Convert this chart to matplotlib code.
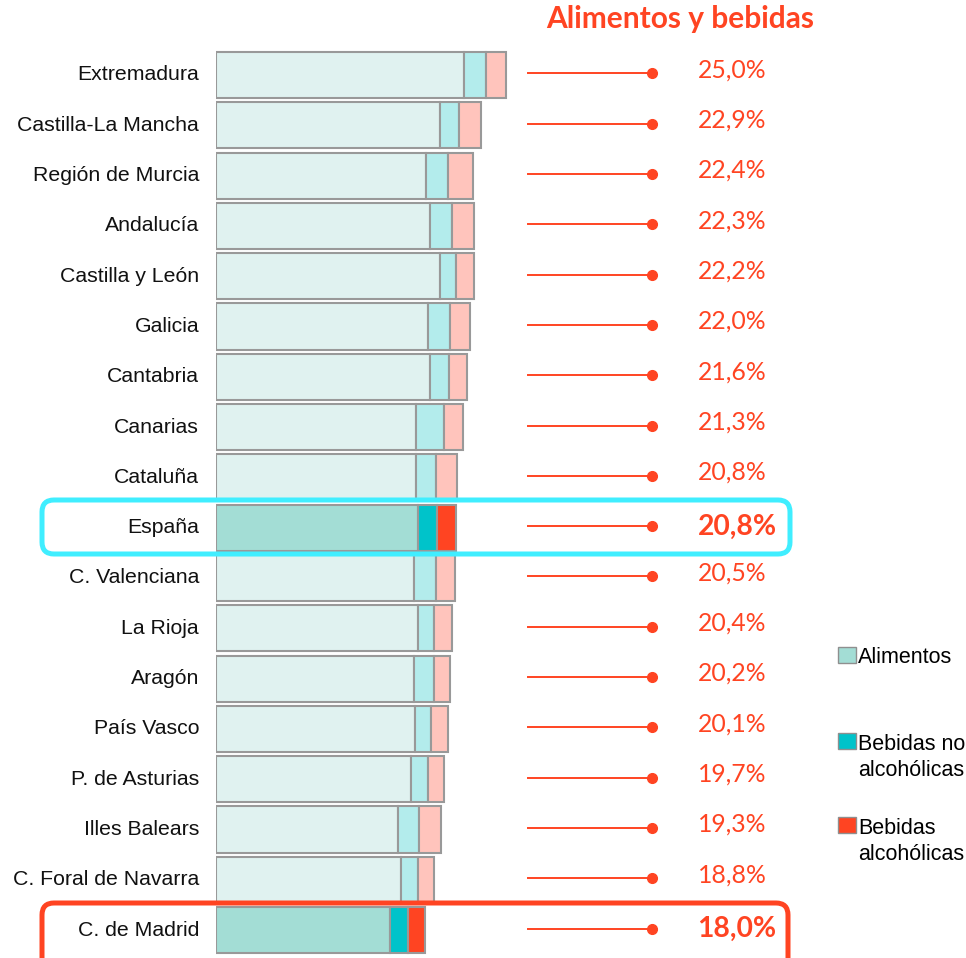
import matplotlib.pyplot as plt
from matplotlib.patches import FancyBboxPatch, Rectangle

# datos (% del gasto total)
regiones = ['Extremadura', 'Castilla-La Mancha', 'Región de Murcia', 'Andalucía',
            'Castilla y León', 'Galicia', 'Cantabria', 'Canarias', 'Cataluña',
            'España', 'C. Valenciana', 'La Rioja', 'Aragón', 'País Vasco',
            'P. de Asturias', 'Illes Balears', 'C. Foral de Navarra', 'C. de Madrid']
alimentos = [21.4, 19.3, 18.1, 18.5, 19.3, 18.3, 18.5, 17.3, 17.3,
             17.4, 17.1, 17.4, 17.1, 17.2, 16.8, 15.7, 16.0, 15.0]
no_alcoholicas = [1.9, 1.7, 1.9, 1.9, 1.4, 1.9, 1.6, 2.4, 1.7,
                  1.7, 1.9, 1.4, 1.7, 1.4, 1.5, 1.8, 1.4, 1.6]
alcoholicas = [1.7, 1.9, 2.2, 1.9, 1.6, 1.7, 1.6, 1.6, 1.8,
               1.6, 1.6, 1.6, 1.4, 1.4, 1.4, 1.9, 1.4, 1.4]
etiquetas = ['25,0%', '22,9%', '22,4%', '22,3%', '22,2%', '22,0%', '21,6%', '21,3%', '20,8%',
             '20,8%', '20,5%', '20,4%', '20,2%', '20,1%', '19,7%', '19,3%', '18,8%', '18,0%']
destacadas = ['España', 'C. de Madrid']

ROJO = '#FF4422'
claros = ['#E0F2F0', '#B3ECEC', '#FFC4BC']
fuertes = ['#A3DDD5', '#00C3CA', '#FF4422']

W, H = 966, 958
fig = plt.figure(figsize=(W / 100, H / 100), dpi=100)

# 11.6 px por punto porcentual, barras empiezan en x=216
px = 11.6
x0 = 215.7
ax = fig.add_axes([x0 / W, 0, 1 - x0 / W, 1])
ax.set_xlim(0, (W - x0) / px)
paso = 50.3
ax.set_ylim((H - 75) / paso, -75 / paso)
ax.axis('off')

def dx(p):
    return (p - x0) / px

for i, reg in enumerate(regiones):
    cols = fuertes if reg in destacadas else claros
    izq = 0
    for val, c in zip([alimentos[i], no_alcoholicas[i], alcoholicas[i]], cols):
        ax.barh(i, val, left=izq, height=0.915, color=c, edgecolor='#999999',
                linewidth=1.5)
        izq += val
    ax.text(dx(199), i, reg, ha='right', va='center', fontsize=15.3,
            family='Liberation Sans', color='#111111')
    ax.plot([dx(528), dx(652)], [i - 0.03, i - 0.03], color=ROJO, lw=1.4)
    ax.plot(dx(652), i - 0.03, 'o', color=ROJO, ms=7)
    if reg in destacadas:
        ax.text(dx(737), i - 0.02, etiquetas[i], ha='center', va='center',
                fontsize=20.3, fontweight='bold', family='Lato', color=ROJO)
    else:
        ax.text(dx(732), i - 0.1, etiquetas[i], ha='center', va='center',
                fontsize=17.8, family='Lato', color=ROJO)

fig.text(680 / W, 1 - 19 / H, 'Alimentos y bebidas', ha='center', va='center',
         fontsize=21.5, fontweight='bold', family='Lato', color=ROJO)

# recuadros redondeados (coordenadas en px)
def recuadro(xa, ya, xb, yb, color):
    p = FancyBboxPatch((xa / 100, (H - yb) / 100), (xb - xa) / 100, (yb - ya) / 100,
                       boxstyle='round,pad=0,rounding_size=0.12',
                       transform=fig.dpi_scale_trans, fill=False,
                       edgecolor=color, linewidth=3.6, clip_on=False)
    fig.patches.append(p)

recuadro(42, 500, 790, 554, '#40EEFF')
recuadro(42, 903, 788, 975, ROJO)

# leyenda
ley = ['Alimentos', 'Bebidas no\nalcohólicas', 'Bebidas\nalcohólicas']
ley_y = [655, 742, 826]
ley_sq = [655, 741, 825]
for txt, ty, sy, c in zip(ley, ley_y, ley_sq, fuertes):
    fig.patches.append(Rectangle((838 / 100, (H - sy - 8) / 100), 0.18, 0.16,
                                 transform=fig.dpi_scale_trans, facecolor=c,
                                 edgecolor='#8f8f8f', linewidth=1))
    fig.text(858 / W, 1 - (ty - 8) / H, txt, ha='left', va='top', fontsize=15.5,
             family='Liberation Sans', linespacing=1.3)

fig.savefig('out.png', dpi=100)
